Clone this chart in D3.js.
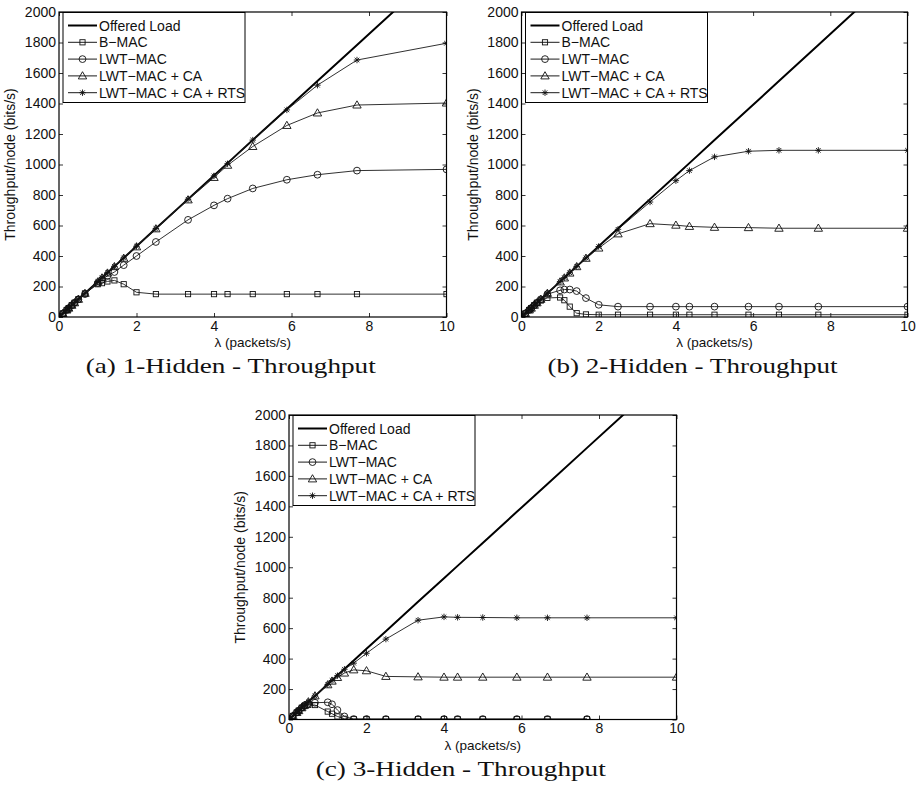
<!DOCTYPE html>
<html>
<head>
<meta charset="utf-8">
<script src="https://cdn.jsdelivr.net/npm/d3@7"></script>
<style>
  html, body { margin: 0; padding: 0; background: #fff; }
  svg { display: block; }
</style>
</head>
<body>
<svg id="fig" width="917" height="793"></svg>
<script>
// Arrival rates (packets/s) shared by all three scenarios
const lambda = [0, 0.1, 0.2, 0.25, 0.33, 0.4, 0.5, 0.67, 1, 1.11, 1.25, 1.43, 1.67, 2, 2.5, 3.33, 4, 4.35, 5, 5.88, 6.67, 7.69, 10];

// Offered load per node (bits/s)
const offeredLoad = [0, 23, 46, 58, 77, 93, 116, 155, 232, 258, 290, 332, 387, 464, 580, 773, 928, 1009, 1160, 1364, 1547, 1784, 2320];

// (a) 1 hidden node
const bmacA = [0, 23, 46, 58, 77, 93, 116, 155, 215, 222, 233, 240, 215, 162, 150, 150, 150, 150, 150, 150, 150, 150, 150];
const lwtA  = [0, 23, 46, 58, 77, 93, 116, 150, 222, 245, 270, 295, 340, 400, 492, 637, 732, 776, 843, 900, 933, 960, 968];
const caA   = [0, 23, 46, 58, 77, 93, 116, 155, 230, 256, 288, 330, 385, 460, 578, 768, 915, 995, 1118, 1256, 1338, 1390, 1403];
const rtsA  = [0, 23, 46, 58, 77, 93, 116, 155, 232, 258, 290, 332, 387, 464, 580, 772, 925, 1005, 1160, 1358, 1520, 1685, 1795];

// (b) 2 hidden nodes
const bmacB = [0, 23, 46, 58, 77, 93, 108, 125, 128, 110, 68, 25, 17, 15, 15, 15, 15, 15, 15, 15, 15, 15, 15];
const lwtB  = [0, 23, 46, 58, 77, 93, 116, 150, 175, 180, 180, 170, 124, 80, 68, 68, 68, 68, 68, 68, 68, 68, 68];
const caB   = [0, 23, 46, 58, 77, 93, 116, 155, 230, 256, 288, 330, 385, 452, 545, 612, 602, 594, 588, 586, 582, 582, 582];
const rtsB  = [0, 23, 46, 58, 77, 93, 116, 155, 232, 258, 290, 332, 387, 462, 575, 754, 894, 960, 1050, 1087, 1093, 1093, 1093];

// (c) 3 hidden nodes (B-MAC and LWT-MAC measured up to 7.69 packets/s)
const bmacC = [0, 23, 46, 58, 77, 88, 96, 95, 52, 38, 20, 5, 2, 2, 2, 2, 2, 2, 2, 2, 2, 2];
const lwtC  = [0, 23, 46, 58, 77, 93, 105, 110, 113, 100, 62, 20, 3, 3, 3, 3, 3, 3, 3, 3, 3, 3];
const caC   = [0, 23, 46, 58, 77, 93, 116, 155, 228, 252, 276, 305, 326, 320, 283, 280, 278, 278, 278, 278, 278, 278, 278];
const rtsC  = [0, 23, 46, 58, 77, 93, 116, 155, 230, 256, 288, 330, 370, 435, 528, 652, 674, 671, 670, 668, 668, 668, 668];

const seriesNames = ["Offered Load", "B\u2212MAC", "LWT\u2212MAC", "LWT\u2212MAC + CA", "LWT\u2212MAC + CA + RTS"];
const markerKinds = ["none", "square", "circle", "triangle", "star"];

const xTicks = [0, 2, 4, 6, 8, 10];
const yTicks = [0, 200, 400, 600, 800, 1000, 1200, 1400, 1600, 1800, 2000];
const xLabel = "\u03bb (packets/s)";
const yLabel = "Throughput/node (bits/s)";

const panels = [
  { caption: "(a) 1-Hidden - Throughput", left: 59, right: 446.5, top: 12, bottom: 317,
    data: [offeredLoad, bmacA, lwtA, caA, rtsA] },
  { caption: "(b) 2-Hidden - Throughput", left: 521.5, right: 907.5, top: 12, bottom: 317,
    data: [offeredLoad, bmacB, lwtB, caB, rtsB] },
  { caption: "(c) 3-Hidden - Throughput", left: 289, right: 676.5, top: 415, bottom: 719.5,
    data: [offeredLoad, bmacC, lwtC, caC, rtsC] }
];

const svg = d3.select("#fig");
const sansFont = "'Liberation Sans', Arial, sans-serif";
const serifFont = "'Liberation Serif', 'DejaVu Serif', serif";

function drawMarker(sel, kind) {
  if (kind === "square") {
    sel.append("rect").attr("x", -2.6).attr("y", -2.6).attr("width", 5.2).attr("height", 5.2);
  } else if (kind === "circle") {
    sel.append("circle").attr("r", 3.4);
  } else if (kind === "triangle") {
    sel.append("path").attr("d", "M0,-4.2L4.2,3L-4.2,3Z");
  } else if (kind === "star") {
    sel.append("path").attr("d", "M-3.2,0H3.2M0,-3.2V3.2M-2.3,-2.3L2.3,2.3M-2.3,2.3L2.3,-2.3");
  }
}

panels.forEach((p, pi) => {
  const x = d3.scaleLinear().domain([0, 10]).range([p.left, p.right]);
  const y = d3.scaleLinear().domain([0, 2000]).range([p.bottom, p.top]);
  const g = svg.append("g");

  const clipId = "clip" + pi;
  svg.append("clipPath").attr("id", clipId)
    .append("rect").attr("x", p.left).attr("y", p.top)
    .attr("width", p.right - p.left).attr("height", p.bottom - p.top);

  // axes with inward ticks on all four sides
  const styleAxis = a => {
    a.select(".domain").remove();
    a.selectAll("line").attr("stroke", "#000").attr("stroke-width", 0.8);
    a.selectAll("text").attr("font-family", sansFont).attr("font-size", 14).attr("fill", "#111");
  };
  g.append("g").attr("transform", `translate(0,${p.bottom})`)
    .call(d3.axisBottom(x).tickValues(xTicks).tickFormat(d3.format("d")).tickSizeInner(-4).tickSizeOuter(0).tickPadding(4))
    .call(styleAxis);
  g.append("g").attr("transform", `translate(0,${p.top})`)
    .call(d3.axisTop(x).tickValues(xTicks).tickFormat("").tickSizeInner(-4).tickSizeOuter(0))
    .call(styleAxis);
  g.append("g").attr("transform", `translate(${p.left},0)`)
    .call(d3.axisLeft(y).tickValues(yTicks).tickFormat(d3.format("d")).tickSizeInner(-4).tickSizeOuter(0).tickPadding(3))
    .call(styleAxis);
  g.append("g").attr("transform", `translate(${p.right},0)`)
    .call(d3.axisRight(y).tickValues(yTicks).tickFormat("").tickSizeInner(-4).tickSizeOuter(0))
    .call(styleAxis);

  // series
  const plot = g.append("g").attr("clip-path", `url(#${clipId})`);
  p.data.forEach((vals, si) => {
    const pts = vals.map((v, i) => [lambda[i], v]);
    const line = d3.line().x(d => x(d[0])).y(d => y(d[1]));
    if (si === 0) {
      plot.append("path").attr("d", line(pts)).attr("fill", "none")
        .attr("stroke", "#000").attr("stroke-width", 2);
      return;
    }
    plot.append("path").attr("d", line(pts)).attr("fill", "none")
      .attr("stroke", "#1a1a1a").attr("stroke-width", 0.9);
    const mk = plot.append("g").attr("fill", "none").attr("stroke", "#111").attr("stroke-width", 0.9);
    pts.forEach(d => {
      const m = mk.append("g").attr("transform", `translate(${x(d[0])},${y(d[1])})`);
      drawMarker(m, markerKinds[si]);
    });
  });

  // plot box
  g.append("rect").attr("x", p.left).attr("y", p.top)
    .attr("width", p.right - p.left).attr("height", p.bottom - p.top)
    .attr("fill", "none").attr("stroke", "#000").attr("stroke-width", 1.2);

  // axis titles
  g.append("text").attr("x", (p.left + p.right) / 2).attr("y", p.bottom + 30)
    .attr("text-anchor", "middle").attr("font-family", sansFont).attr("font-size", 13.5)
    .attr("fill", "#111").text(xLabel);
  g.append("text")
    .attr("transform", `translate(${p.left - 44},${(p.top + p.bottom) / 2}) rotate(-90)`)
    .attr("text-anchor", "middle").attr("font-family", sansFont).attr("font-size", 14)
    .attr("fill", "#111").text(yLabel);

  // legend
  const lg = g.append("g").attr("transform", `translate(${p.left + 4},${p.top + 0.5})`);
  lg.append("rect").attr("width", 182).attr("height", 90)
    .attr("fill", "#fff").attr("stroke", "#000").attr("stroke-width", 1);
  seriesNames.forEach((name, si) => {
    const ry = 13 + si * 16.8;
    lg.append("line").attr("x1", 5).attr("x2", 34).attr("y1", ry).attr("y2", ry)
      .attr("stroke", "#000").attr("stroke-width", si === 0 ? 2 : 0.9);
    if (si > 0) {
      const m = lg.append("g").attr("transform", `translate(19.5,${ry})`)
        .attr("fill", "none").attr("stroke", "#111").attr("stroke-width", 0.9);
      drawMarker(m, markerKinds[si]);
    }
    lg.append("text").attr("x", 36).attr("y", ry).attr("dy", "0.36em")
      .attr("font-family", sansFont).attr("font-size", 14).attr("fill", "#111").text(name);
  });

  // caption
  g.append("text").attr("x", (p.left + p.right) / 2 - 22).attr("y", p.bottom + 56)
    .attr("text-anchor", "middle").attr("font-family", serifFont).attr("font-size", 21)
    .attr("textLength", 290).attr("lengthAdjust", "spacingAndGlyphs")
    .attr("fill", "#111").text(p.caption);
});
</script>
</body>
</html>
